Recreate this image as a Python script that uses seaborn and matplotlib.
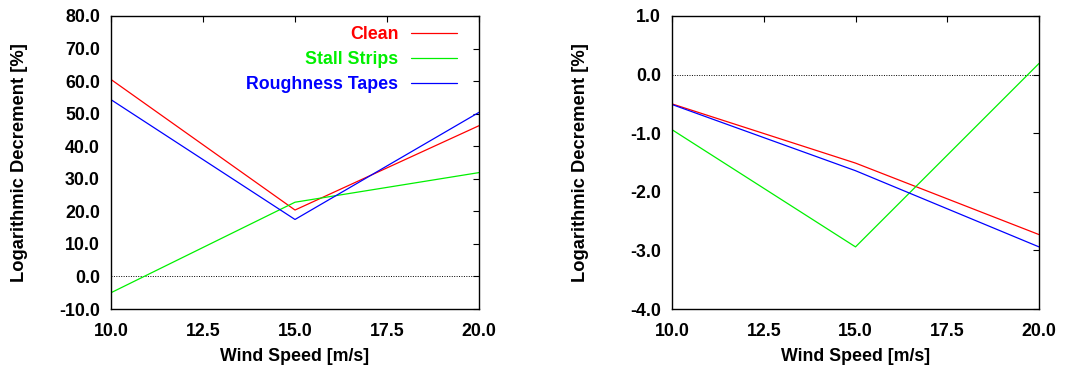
import matplotlib
matplotlib.use("Agg")
import matplotlib.pyplot as plt
import seaborn as sns
import pandas as pd

wind = [10.0, 15.0, 20.0]
series_names = ["Clean", "Stall Strips", "Roughness Tapes"]
left_clean = [60.5, 20.4, 46.3]
left_stall = [-5.0, 22.8, 31.9]
left_rough = [54.3, 17.5, 50.4]
right_clean = [-0.50, -1.51, -2.73]
right_stall = [-0.94, -2.94, 0.19]
right_rough = [-0.51, -1.64, -2.94]
left_yticks = [-10, 0, 10, 20, 30, 40, 50, 60, 70, 80]
right_yticks = [-4, -3, -2, -1, 0, 1]
xticks = [10.0, 12.5, 15.0, 17.5, 20.0]
colors = ["#ff0000", "#00f000", "#0000ff"]

def long_df(vals):
    rows = []
    for name, v in zip(series_names, vals):
        for x, y in zip(wind, v):
            rows.append({"Wind": x, "Value": y, "Case": name})
    return pd.DataFrame(rows)

df_left = long_df([left_clean, left_stall, left_rough])
df_right = long_df([right_clean, right_stall, right_rough])

sns.set_style("white")
plt.rcParams['font.family'] = ['Liberation Sans', 'DejaVu Sans']
plt.rcParams['font.weight'] = 'bold'
plt.rcParams['text.color'] = 'black'
plt.rcParams['axes.labelcolor'] = 'black'

FS = 12.8
fig = plt.figure(figsize=(10.88, 3.67), dpi=100)
W, H = 1088, 367
ax1 = fig.add_axes([111/W, (H-309)/H, 368/W, 293/H])
ax2 = fig.add_axes([672/W, (H-309)/H, 367/W, 293/H])

pal = dict(zip(series_names, colors))

for ax, df, yt in [(ax1, df_left, left_yticks), (ax2, df_right, right_yticks)]:
    sns.lineplot(data=df, x="Wind", y="Value", hue="Case", palette=pal, ax=ax,
                 linewidth=0.9, legend=(ax is ax1), hue_order=series_names)
    ax.axhline(0, color="black", linestyle=(0, (1, 1.5)), linewidth=0.7, zorder=0)
    ax.set_xlim(10, 20)
    ax.set_ylim(yt[0], yt[-1])
    ax.set_xticks(xticks)
    ax.set_xticklabels([f"{t:.1f}" for t in xticks])
    ax.set_yticks(yt)
    ax.set_yticklabels([f"{t:.1f}" for t in yt])
    ax.tick_params(direction="in", length=4, width=0.8, top=True, right=True,
                   labelsize=FS, colors="black")
    ax.tick_params(axis="x", pad=10)
    ax.tick_params(axis="y", pad=8)
    for lab in ax.get_xticklabels() + ax.get_yticklabels():
        lab.set_fontweight("bold")
    for s in ax.spines.values():
        s.set_color("black")
        s.set_linewidth(1.0)
    ax.set_xlabel("Wind Speed [m/s]", fontsize=FS, fontweight="bold", labelpad=6, color="black")
    ax.set_ylabel("Logarithmic Decrement [%]", fontsize=13.2, fontweight="bold", color="black")
    ax.yaxis.set_label_coords(-0.226, 0.5)

leg = ax1.legend(loc="upper right", frameon=False, markerfirst=False, fontsize=FS,
                 handlelength=2.6, handletextpad=0.7, borderaxespad=0, borderpad=0,
                 labelspacing=0.45, bbox_to_anchor=(0.940, 0.965))
for t, c in zip(leg.get_texts(), colors):
    t.set_color(c)
    t.set_fontweight("bold")
    t.set_ha("right")
leg._legend_box.align = "right"

fig.savefig("out.png", dpi=100)
